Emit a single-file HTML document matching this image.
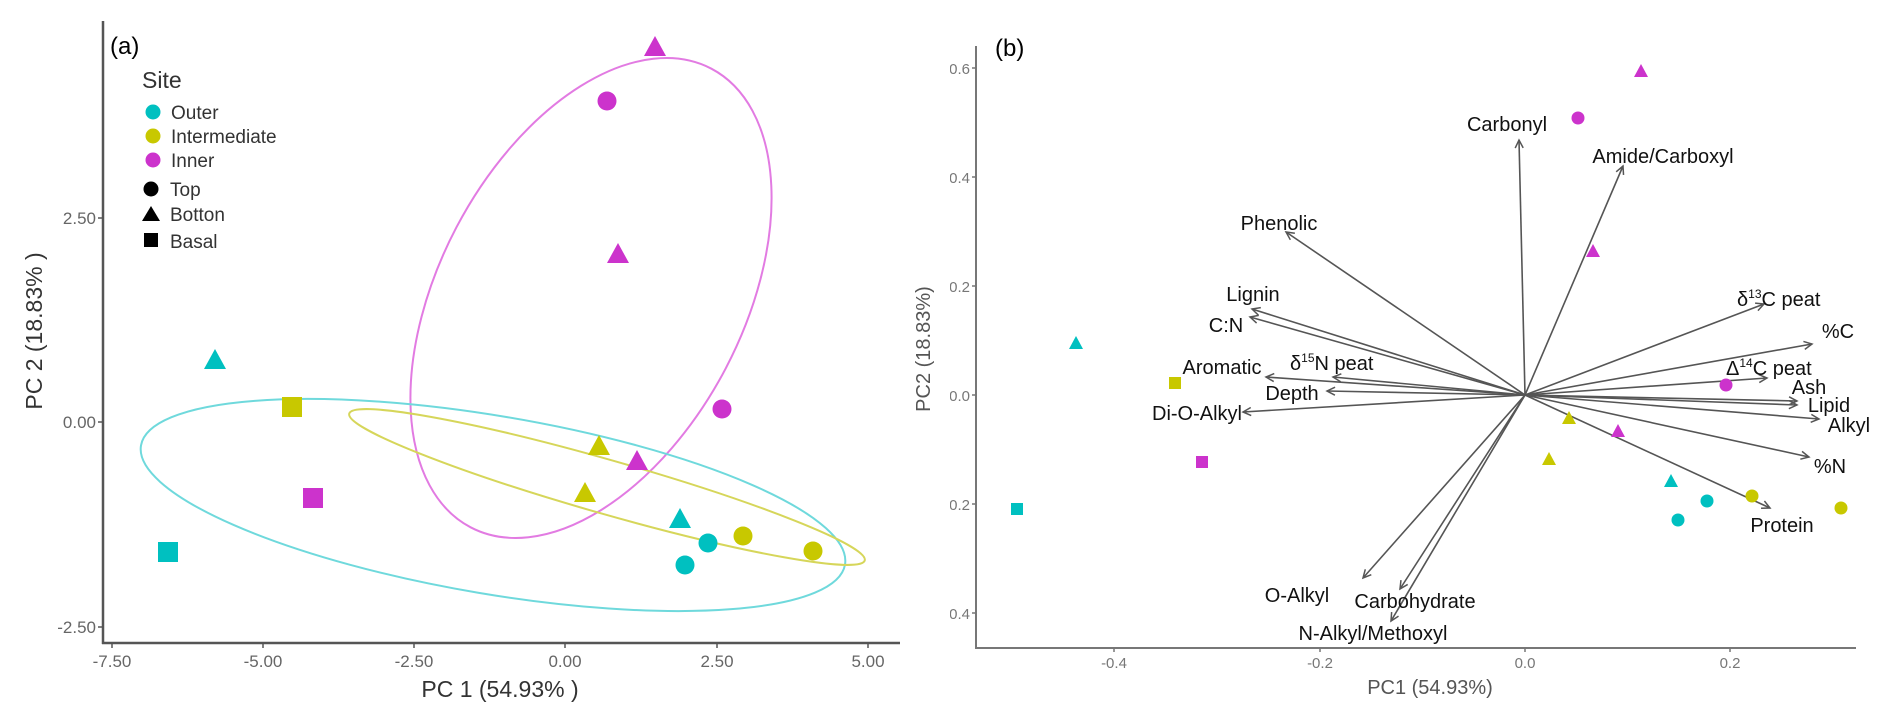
<!DOCTYPE html>
<html><head><meta charset="utf-8"><style>
html,body{margin:0;padding:0;background:#fff;}
svg{display:block;}
</style></head><body>
<svg width="1892" height="721" viewBox="0 0 1892 721" xmlns="http://www.w3.org/2000/svg" font-family="Liberation Sans, sans-serif">
<defs>
<marker id="ah" markerWidth="12" markerHeight="12" refX="9" refY="5" orient="auto" markerUnits="userSpaceOnUse">
<polyline points="1,1 9,5 1,9" fill="none" stroke="#555" stroke-width="1.5"/>
</marker>
</defs>
<rect width="1892" height="721" fill="#fff"/>

<!-- Panel A -->
<g>
<ellipse cx="591" cy="298" rx="259" ry="152" transform="rotate(-62.3 591 298)" fill="none" stroke="#E27BE2" stroke-width="2"/>
<ellipse cx="493" cy="505" rx="357" ry="89" transform="rotate(9.6 493 505)" fill="none" stroke="#6FD9DC" stroke-width="2"/>
<ellipse cx="607" cy="487" rx="268" ry="27" transform="rotate(15.9 607 487)" fill="none" stroke="#D6D65A" stroke-width="2"/>

<line x1="103" y1="21" x2="103" y2="644" stroke="#555" stroke-width="2.5"/>
<line x1="102" y1="643" x2="900" y2="643" stroke="#555" stroke-width="2.5"/>
<g stroke="#555" stroke-width="1.5">
<line x1="98" y1="218" x2="103" y2="218"/><line x1="98" y1="422" x2="103" y2="422"/><line x1="98" y1="627" x2="103" y2="627"/>
<line x1="112" y1="643" x2="112" y2="648"/><line x1="263" y1="643" x2="263" y2="648"/><line x1="414" y1="643" x2="414" y2="648"/><line x1="565" y1="643" x2="565" y2="648"/><line x1="717" y1="643" x2="717" y2="648"/><line x1="868" y1="643" x2="868" y2="648"/>
</g>
<g fill="#666" font-size="17" text-anchor="end">
<text x="96" y="224">2.50</text><text x="96" y="428">0.00</text><text x="96" y="633">-2.50</text>
</g>
<g fill="#666" font-size="17" text-anchor="middle">
<text x="112" y="667">-7.50</text><text x="263" y="667">-5.00</text><text x="414" y="667">-2.50</text><text x="565" y="667">0.00</text><text x="717" y="667">2.50</text><text x="868" y="667">5.00</text>
</g>
<text x="500" y="697" font-size="23" fill="#333" text-anchor="middle">PC 1 (54.93% )</text>
<text transform="translate(42 331) rotate(-90)" font-size="23" fill="#333" text-anchor="middle">PC 2 (18.83% )</text>
<text x="110" y="54" font-size="24" fill="#000">(a)</text>

<!-- legend -->
<text x="142" y="88" font-size="23" fill="#333">Site</text>
<circle cx="153" cy="112" r="7.5" fill="#00C0C0"/><text x="171" y="119" font-size="19" fill="#333">Outer</text>
<circle cx="153" cy="136" r="7.5" fill="#C8C800"/><text x="171" y="143" font-size="19" fill="#333">Intermediate</text>
<circle cx="153" cy="160" r="7.5" fill="#CC33CC"/><text x="171" y="167" font-size="19" fill="#333">Inner</text>
<circle cx="151" cy="189" r="7.5" fill="#000"/><text x="170" y="196" font-size="19" fill="#333">Top</text>
<polygon points="151,206 160,221 142,221" fill="#000"/><text x="170" y="221" font-size="19" fill="#333">Botton</text>
<rect x="144" y="233" width="14" height="14" fill="#000"/><text x="170" y="248" font-size="19" fill="#333">Basal</text>

<!-- points A -->
<g fill="#CC33CC">
<polygon points="655,36 666,56 644,56"/>
<circle cx="607" cy="101" r="9.5"/>
<polygon points="618,243 629,263 607,263"/>
<circle cx="722" cy="409" r="9.5"/>
<polygon points="637,450 648,470 626,470"/>
<rect x="303" y="488" width="20" height="20"/>
</g>
<g fill="#00C0C0">
<polygon points="215,349 226,369 204,369"/>
<polygon points="680,508 691,528 669,528"/>
<circle cx="708" cy="543" r="9.5"/>
<circle cx="685" cy="565" r="9.5"/>
<rect x="158" y="542" width="20" height="20"/>
</g>
<g fill="#C8C800">
<rect x="282" y="397" width="20" height="20"/>
<polygon points="599,435 610,455 588,455"/>
<polygon points="585,482 596,502 574,502"/>
<circle cx="743" cy="536" r="9.5"/>
<circle cx="813" cy="551" r="9.5"/>
</g>
</g>

<!-- Panel B -->
<g>
<line x1="976" y1="46" x2="976" y2="649" stroke="#777" stroke-width="2"/>
<line x1="975" y1="648" x2="1856" y2="648" stroke="#777" stroke-width="2"/>
<g stroke="#777" stroke-width="1.5">
<line x1="972" y1="68" x2="976" y2="68"/><line x1="972" y1="177" x2="976" y2="177"/><line x1="972" y1="286" x2="976" y2="286"/><line x1="972" y1="395" x2="976" y2="395"/><line x1="972" y1="504" x2="976" y2="504"/><line x1="972" y1="613" x2="976" y2="613"/>
<line x1="1114" y1="648" x2="1114" y2="652"/><line x1="1320" y1="648" x2="1320" y2="652"/><line x1="1525" y1="648" x2="1525" y2="652"/><line x1="1730" y1="648" x2="1730" y2="652"/>
</g>
<g fill="#777" font-size="15" text-anchor="end">
<text x="970" y="74">0.6</text><text x="970" y="183">0.4</text><text x="970" y="292">0.2</text><text x="970" y="401">0.0</text><text x="970" y="510">-0.2</text><text x="970" y="619">-0.4</text>
</g>
<rect x="930" y="40" width="20" height="600" fill="#fff"/>
<g fill="#777" font-size="15" text-anchor="middle">
<text x="1114" y="668">-0.4</text><text x="1320" y="668">-0.2</text><text x="1525" y="668">0.0</text><text x="1730" y="668">0.2</text>
</g>
<text x="1430" y="694" font-size="20" fill="#555" text-anchor="middle">PC1 (54.93%)</text>
<text transform="translate(930 349) rotate(-90)" font-size="20" fill="#555" text-anchor="middle">PC2 (18.83%)</text>
<text x="995" y="56" font-size="24" fill="#000">(b)</text>

<g stroke="#555" stroke-width="1.6" fill="none" marker-end="url(#ah)">
<line x1="1525" y1="395" x2="1519" y2="140"/>
<line x1="1525" y1="395" x2="1623" y2="166"/>
<line x1="1525" y1="395" x2="1286" y2="232"/>
<line x1="1525" y1="395" x2="1252" y2="309"/>
<line x1="1525" y1="395" x2="1250" y2="317"/>
<line x1="1525" y1="395" x2="1266" y2="377"/>
<line x1="1525" y1="395" x2="1333" y2="377"/>
<line x1="1525" y1="395" x2="1327" y2="391"/>
<line x1="1525" y1="395" x2="1243" y2="412"/>
<line x1="1525" y1="395" x2="1363" y2="578"/>
<line x1="1525" y1="395" x2="1400" y2="589"/>
<line x1="1525" y1="395" x2="1391" y2="621"/>
<line x1="1525" y1="395" x2="1764" y2="304"/>
<line x1="1525" y1="395" x2="1812" y2="344"/>
<line x1="1525" y1="395" x2="1767" y2="378"/>
<line x1="1525" y1="395" x2="1797" y2="401"/>
<line x1="1525" y1="395" x2="1797" y2="405"/>
<line x1="1525" y1="395" x2="1819" y2="419"/>
<line x1="1525" y1="395" x2="1809" y2="457"/>
<line x1="1525" y1="395" x2="1770" y2="508"/>
</g>

<g font-size="20" fill="#111" text-anchor="middle" font-family="Liberation Sans, DejaVu Sans, sans-serif">
<text x="1507" y="131">Carbonyl</text>
<text x="1663" y="163">Amide/Carboxyl</text>
<text x="1279" y="230">Phenolic</text>
<text x="1253" y="301">Lignin</text>
<text x="1226" y="332">C:N</text>
<text x="1222" y="374">Aromatic</text>
<text x="1292" y="400">Depth</text>
<text x="1242" y="420" text-anchor="end">Di-O-Alkyl</text>
<text x="1297" y="602">O-Alkyl</text>
<text x="1415" y="608">Carbohydrate</text>
<text x="1373" y="640">N-Alkyl/Methoxyl</text>
<text x="1838" y="338">%C</text>
<text x="1809" y="394">Ash</text>
<text x="1829" y="412">Lipid</text>
<text x="1849" y="432">Alkyl</text>
<text x="1830" y="473">%N</text>
<text x="1782" y="532">Protein</text>
</g>
<g font-size="20" fill="#111" font-family="Liberation Sans, DejaVu Sans, sans-serif">
<text x="1290" y="370">δ<tspan font-size="12" dy="-8">15</tspan><tspan dy="8">N peat</tspan></text>
<text x="1737" y="306">δ<tspan font-size="12" dy="-8">13</tspan><tspan dy="8">C peat</tspan></text>
<text x="1726" y="375">Δ<tspan font-size="12" dy="-8">14</tspan><tspan dy="8">C peat</tspan></text>
</g>

<g fill="#CC33CC">
<polygon points="1641,64 1648,77 1634,77"/>
<circle cx="1578" cy="118" r="6.5"/>
<polygon points="1593,244 1600,257 1586,257"/>
<circle cx="1726" cy="385" r="6.5"/>
<polygon points="1618,424 1625,437 1611,437"/>
<rect x="1196" y="456" width="12" height="12"/>
</g>
<g fill="#00C0C0">
<polygon points="1076,336 1083,349 1069,349"/>
<polygon points="1671,474 1678,487 1664,487"/>
<circle cx="1707" cy="501" r="6.5"/>
<circle cx="1678" cy="520" r="6.5"/>
<rect x="1011" y="503" width="12" height="12"/>
</g>
<g fill="#C8C800">
<rect x="1169" y="377" width="12" height="12"/>
<polygon points="1569,411 1576,424 1562,424"/>
<polygon points="1549,452 1556,465 1542,465"/>
<circle cx="1752" cy="496" r="6.5"/>
<circle cx="1841" cy="508" r="6.5"/>
</g>
</g>
</svg>
</body></html>
